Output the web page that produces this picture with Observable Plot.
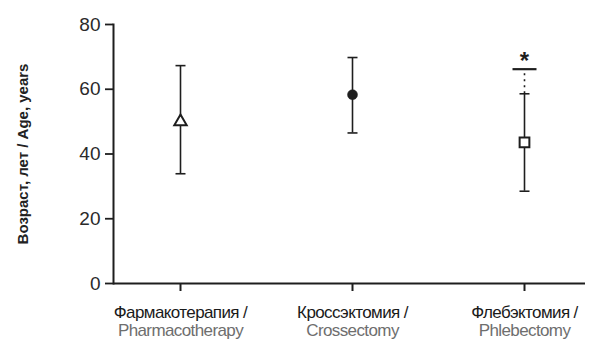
<!DOCTYPE html>
<html><head><meta charset="utf-8">
<script src="https://cdn.jsdelivr.net/npm/d3@7"></script>
<script src="https://cdn.jsdelivr.net/npm/@observablehq/plot@0.6"></script>
<style>
body{margin:0;background:#fff;}
g[aria-label="x-axis tick label"] text{letter-spacing:-0.6px;}
</style></head>
<body><div id="chart"></div>
<script>
const groups = ["pharma", "cross", "phleb"];
const labelsRu = ["Фармакотерапия /", "Кроссэктомия /", "Флебэктомия /"];
const labelsEn = ["Pharmacotherapy", "Crossectomy", "Phlebectomy"];
const means = [50, 58.3, 43.6];
const lows = [33.9, 46.5, 28.5];
const highs = [67.3, 69.8, 58.6];
const symbols = ["triangle", "circle", "square"];
const yTicks = [0, 20, 40, 60, 80];
const sigGroup = "phleb";
const sigLine = 66.2;
const sigStar = 70.4;
const yLabel = "Возраст, лет / Age, years";

const rows = groups.map((g, i) => ({g, mean: means[i], lo: lows[i], hi: highs[i], sym: symbols[i]}));
const ru = Object.fromEntries(groups.map((g, i) => [g, labelsRu[i]]));
const en = Object.fromEntries(groups.map((g, i) => [g, labelsEn[i]]));

const hline = {draw(ctx, size) { const r = Math.sqrt(size / Math.PI); ctx.moveTo(-r, 0); ctx.lineTo(r, 0); }};
const ink = "#1e1e1e";
const font = "'Liberation Sans Narrow', 'Arial Narrow', 'Liberation Sans', Arial, sans-serif";

const chart = Plot.plot({
  width: 600, height: 351,
  marginLeft: 113, marginRight: 15, marginTop: 24, marginBottom: 68,
  style: {fontSize: "16px", fontFamily: font, color: ink, background: "#fff"},
  x: {type: "point", domain: groups, padding: 0.372, align: 0.523},
  y: {domain: [0, 80]},
  marks: [
    Plot.axisY({ticks: yTicks, tickSize: 8, tickPadding: 5, label: null, fontSize: 19, fill: "#2a2a2a", strokeWidth: 1.8}),
    Plot.axisX({tickSize: 8, tickPadding: 14, tickFormat: d => ru[d], label: null, fontSize: 17, fill: "#1a1a1a", strokeWidth: 2}),
    Plot.axisX({tickSize: 0, tickPadding: 40, tickFormat: d => en[d], label: null, fontSize: 17, fill: "#6e6e6e"}),
    Plot.frame({anchor: "left", stroke: ink, strokeWidth: 2}),
    Plot.ruleY([0], {stroke: ink, strokeWidth: 2}),
    Plot.text([yLabel], {frameAnchor: "left", textAnchor: "middle", rotate: -90, dx: -90, fontWeight: "bold", fontSize: 15, fill: "#222"}),
    Plot.ruleX(rows, {x: "g", y1: "lo", y2: "hi", stroke: ink, strokeWidth: 1.6}),
    Plot.dot(rows, {x: "g", y: "lo", symbol: hline, r: 5, stroke: ink, strokeWidth: 1.6}),
    Plot.dot(rows, {x: "g", y: "hi", symbol: hline, r: 5, stroke: ink, strokeWidth: 1.6}),
    Plot.ruleX([sigGroup], {x: d => d, y1: highs[2], y2: sigLine, stroke: ink, strokeWidth: 1.6, strokeDasharray: "2,4"}),
    Plot.dot([sigGroup], {x: d => d, y: sigLine, symbol: hline, r: 12, stroke: ink, strokeWidth: 2.2}),
    Plot.text([sigGroup], {x: d => d, y: sigStar, text: () => "*", fontSize: 24, fontWeight: "bold", fill: ink, dy: 6}),
    Plot.dot(rows.filter(d => d.sym === "triangle"), {x: "g", y: "mean", symbol: "triangle", r: 4.6, fill: "#fff", stroke: ink, strokeWidth: 2}),
    Plot.dot(rows.filter(d => d.sym === "circle"), {x: "g", y: "mean", symbol: "circle", r: 5, fill: ink, stroke: ink, strokeWidth: 0.5}),
    Plot.dot(rows.filter(d => d.sym === "square"), {x: "g", y: "mean", symbol: "square", r: 5.5, fill: "#fff", stroke: ink, strokeWidth: 2})
  ]
});
document.getElementById("chart").append(chart);
</script></body></html>
